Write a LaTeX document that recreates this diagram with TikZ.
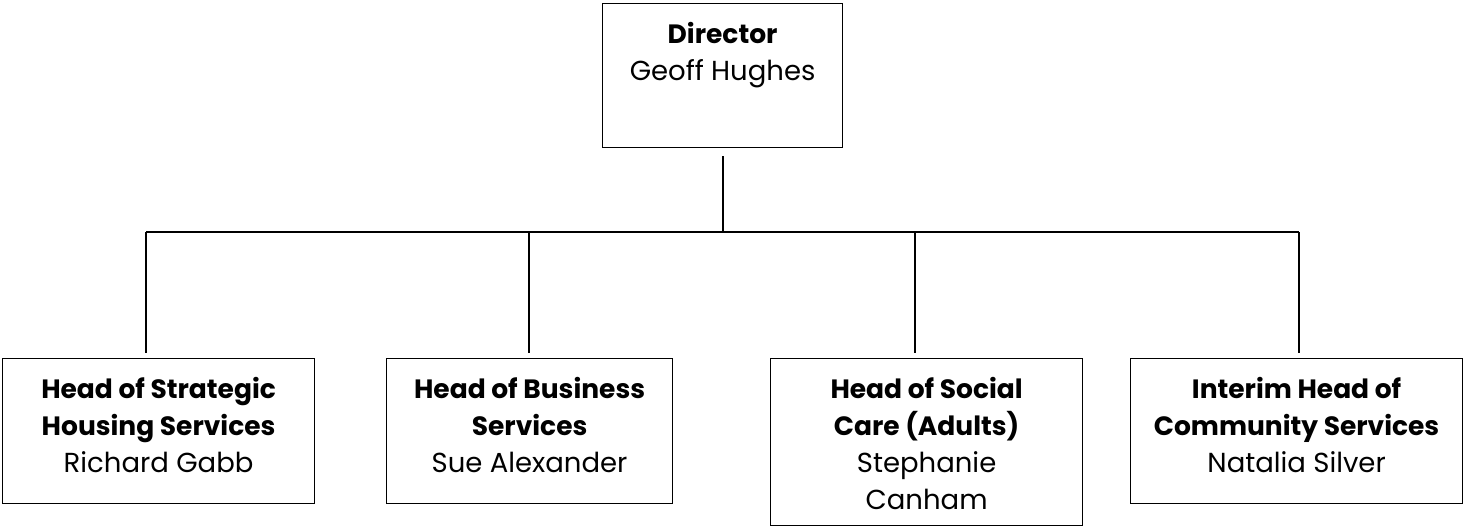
\documentclass[tikz,border=0pt]{standalone}
\usepackage{fontspec}
\setmainfont{Poppins}
\newcommand{\boxtxt}[3]{\parbox[c][#2][t]{#1}{\centering\fontsize{27}{37}\selectfont\rule{0pt}{40pt}#3\par}}
\newcommand{\ttl}[1]{{\fontsize{26.5}{37}\selectfont\bfseries #1}}
\newcommand{\nm}[1]{{\fontsize{27.5}{37}\selectfont #1}}
\begin{document}
\begin{tikzpicture}[x=1pt,y=-1pt,
  orgbox/.style={draw, line width=1.2pt, inner sep=0pt, anchor=north west},
  link/.style={line width=1.2pt}]
\useasboundingbox (0,0) rectangle (1464,527);
\node[orgbox] (dir) at (602,3) {\boxtxt{240pt}{144pt}{\ttl{Director}\\\nm{Geoff Hughes}}};
\node[orgbox] (h1) at (2,358) {\boxtxt{312pt}{145pt}{\ttl{Head of Strategic}\\\ttl{Housing Services}\\\nm{Richard Gabb}}};
\node[orgbox] (h2) at (386,358) {\boxtxt{286pt}{145pt}{\ttl{Head of Business}\\\ttl{Services}\\\nm{Sue Alexander}}};
\node[orgbox] (h3) at (770,358) {\boxtxt{312pt}{167pt}{\ttl{Head of Social}\\\ttl{Care (Adults)}\\\nm{Stephanie}\\\nm{Canham}}};
\node[orgbox] (h4) at (1130,358) {\boxtxt{332pt}{145pt}{\ttl{Interim Head of}\\\ttl{Community Services}\\\nm{Natalia Silver}}};
\coordinate (j0) at (723,232);
\coordinate (c1) at (146,232);
\coordinate (c2) at (529,232);
\coordinate (c3) at (915,232);
\coordinate (c4) at (1299,232);
\draw[link] (dir.south -| j0) ++(0,8) -- (j0);
\draw[link] (c1) -- (c4);
\draw[link, shorten >=5pt] (c1) -- (h1.north -| c1);
\draw[link, shorten >=5pt] (c2) -- (h2.north -| c2);
\draw[link, shorten >=5pt] (c3) -- (h3.north -| c3);
\draw[link, shorten >=5pt] (c4) -- (h4.north -| c4);
\end{tikzpicture}
\end{document}
